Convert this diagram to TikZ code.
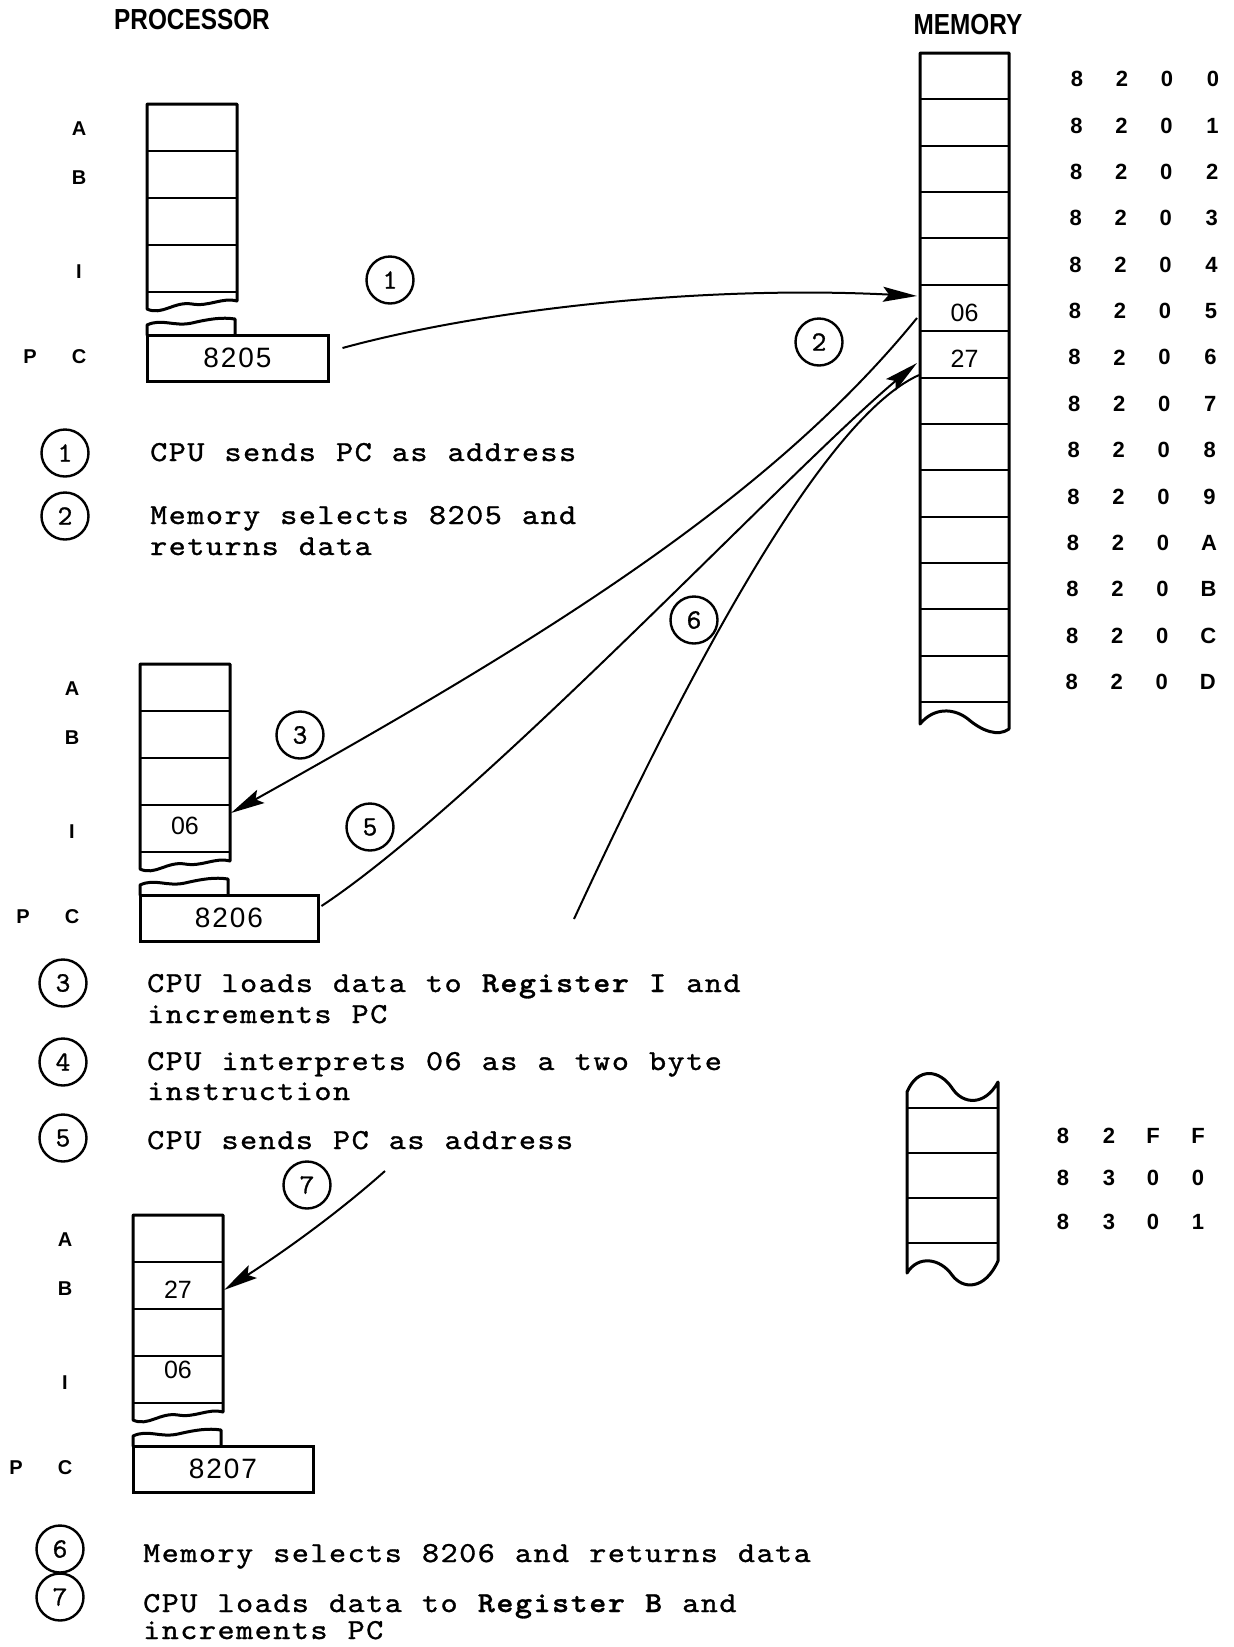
\documentclass[tikz,border=0pt]{standalone}
\usepackage{fontspec}
\usepackage{graphicx}
\newfontfamily\hel{Liberation Sans}
\newfontfamily\legfam{lmmono10-regular}[Extension=.otf, LetterSpace=4.73, FakeBold=1, BoldFont=lmmonolt10-bold]
\newfontfamily\circfam{lmmono10-regular}[Extension=.otf, FakeBold=1]
\usetikzlibrary{arrows.meta}
\newcommand{\legfont}{\legfam\fontsize{29}{30}\selectfont\spaceskip=17.97pt\relax}
\newcommand{\lt}[1]{\scalebox{1.12}[1]{#1}}
\newcommand{\cellfont}{\hel\fontsize{25}{25}\selectfont}
\newcommand{\pcfont}{\hel\fontsize{28}{28}\selectfont\addfontfeature{LetterSpace=7}}
\newcommand{\circfont}{\circfam\fontsize{28}{28}\selectfont}
\newcommand{\labfont}{\hel\bfseries\fontsize{20}{20}\selectfont}
\newcommand{\addrfont}{\hel\bfseries\fontsize{22}{22}\selectfont}
\newcommand{\titlefont}{\hel\bfseries\fontsize{29}{29}\selectfont}
% processor register stack: #1 prefix, #2 left x, #3 top y, #4 PC right x, #5 PC text
\newcommand{\procbox}[5]{%
  \foreach \k/\nm in {0/a,1/b,2/x,3/i}{\node[regcell] (#1\nm) at ({#2+45},{#3+47*\k+23.5}) {};}
  \pgfmathsetmacro{\R}{#3+188}
  \draw[boxline] ({#2+90},{\R+9}) -- ({#2+90},{#3}) -- ({#2},{#3}) -- ({#2},{\R+17})
     .. controls ({#2+15},{\R+24}) and ({#2+27},{\R+9}) .. ({#2+45},{\R+12})
     .. controls ({#2+62},{\R+15}) and ({#2+75},{\R+5}) .. ({#2+90},{\R+9});
  \draw[boxline] ({#2},{\R+43}) -- ({#2},{\R+33})
     .. controls ({#2+15},{\R+26}) and ({#2+27},{\R+35}) .. ({#2+45},{\R+31})
     .. controls ({#2+62},{\R+27}) and ({#2+75},{\R+25}) .. ({#2+88},{\R+27}) -- ({#2+88},{\R+43});
  \node[pcbox, minimum width={(#4-#2)*1pt}] (#1pc) at ({(#2+#4)/2},{\R+66}) {#5};
  \node[reglabel] (#1la) at ({#2-68},{#3+25}) {A};
  \node[reglabel] (#1lb) at ({#2-68},{#3+74}) {B};
  \node[reglabel] (#1li) at ({#2-68},{#3+168}) {I};
  \node[reglabel] (#1lp) at ({#2-117},{\R+65}) {P};
  \node[reglabel] (#1lc) at ({#2-68},{\R+65}) {C};
}
\begin{document}
\begin{tikzpicture}[x=1pt,y=-1pt,
  boxline/.style={line width=3pt, line join=round, line cap=round},
  regcell/.style={draw, line width=2pt, minimum width=90pt, minimum height=47pt, inner sep=0pt},
  memcell/.style={draw, line width=2pt, minimum width=89pt, minimum height=46.36pt, inner sep=0pt},
  celltext/.style={font=\cellfont, inner sep=0pt},
  pcbox/.style={draw, line width=3pt, minimum height=46pt, inner sep=0pt, font=\pcfont},
  conn/.style={line width=2pt},
  arr/.style={conn, -{Stealth[length=34pt,width=15pt,inset=6pt]}},
  stepnum/.style={draw, circle, line width=2.4pt, minimum size=47pt, inner sep=0pt, font=\circfont},
  reglabel/.style={font=\labfont, inner sep=0pt},
  addr/.style={font=\addrfont, inner sep=0pt},
  legtext/.style={font=\legfont, inner sep=0pt, anchor=base west},
  title/.style={font=\titlefont, inner sep=0pt}
]
\useasboundingbox (0,0) rectangle (1234,1647);

% titles
\node[title] (tp) at (192,20) {\scalebox{0.84}[1]{PROCESSOR}};
\node[title] (tm) at (968,25) {\scalebox{0.84}[1]{MEMORY}};

% processor snapshots
\procbox{p1}{147}{104}{328}{8205}
\procbox{p2}{140}{664}{318}{8206}
\procbox{p3}{133}{1215}{313}{8207}
\node[celltext] (t2i) at ([yshift=3pt]p2i.center) {06};
\node[celltext] (t3b) at ([yshift=-4pt]p3b.center) {27};
\node[celltext] (t3i) at ([yshift=9.5pt]p3i.center) {06};

% memory
\foreach \i in {0,...,13} {\node[memcell] (m\i) at (964.5,{53+46.36*(\i+0.5)}) {};}
\draw[boxline] (1009,729) -- (1009,53) -- (920,53) -- (920,724)
   .. controls (934,707) and (954,708) .. (968,719)
   .. controls (982,731) and (998,737) .. (1009,729);
\node[celltext] (tm5) at ([yshift=-5pt]m5.center) {06};
\node[celltext] (tm6) at ([yshift=-4pt]m6.center) {27};
\foreach \d [count=\i from 0] in {0,1,2,3,4,5,6,7,8,9,A,B,C,D} {
  \pgfmathsetmacro{\yy}{53+46.36*(\i+0.5)+3}
  \pgfmathsetmacro{\xx}{1077-0.4*\i}
  \node[addr] (ad\i-1) at (\xx,\yy) {8};
  \node[addr] (ad\i-2) at ({\xx+45},\yy) {2};
  \node[addr] (ad\i-3) at ({\xx+90},\yy) {0};
  \node[addr] (ad\i-4) at ({\xx+136},\yy) {\d};
}

% memory fragment
\foreach \i in {0,1,2} {\node[memcell, minimum width=91pt, minimum height=45pt] (n\i) at (952.5,{1108+45*\i+22.5}) {};}
\draw[boxline] (907,1092) .. controls (918,1066) and (940,1070) .. (952,1088)
   .. controls (963,1105) and (985,1106) .. (998,1082) -- (998,1261)
   .. controls (985,1290) and (963,1290) .. (952,1275)
   .. controls (940,1258) and (918,1255) .. (907,1273) -- cycle;
\foreach \a/\b/\c/\d/\y [count=\j] in {8/2/F/F/1136, 8/3/0/0/1178, 8/3/0/1/1222} {
  \node[addr] (bd\j-1) at (1063,\y) {\a};
  \node[addr] (bd\j-2) at (1109,\y) {\b};
  \node[addr] (bd\j-3) at (1153,\y) {\c};
  \node[addr] (bd\j-4) at (1198,\y) {\d};
}

% step circles on the diagram
\node[stepnum] (c1) at (390,280) {1};
\node[stepnum] (c2) at (819,342) {2};
\node[stepnum] (c3) at (300,735) {3};
\node[stepnum] (c5) at (370,827) {5};
\node[stepnum] (c6) at (694,620) {6};
\node[stepnum] (c7) at (307,1185) {7};

% connectors
\draw[arr] ([xshift=13pt,yshift=10pt]p1pc.east) .. controls +(139,-38) and +(-218,-11) .. ([xshift=-2pt,yshift=12pt]m5.west);
\draw[arr] ([xshift=-2pt,yshift=-10pt]m5.west) .. controls +(-148,182) and +(310,-173) .. ([yshift=15.5pt]p2i.east);
\draw[arr] ([xshift=2pt,yshift=12pt]p2pc.east) .. controls +(160,-106) and +(-128,107) .. ([xshift=-2pt,yshift=-8.7pt]m6.west);
\coordinate (e6) at (574,919);
\draw[conn] ([yshift=-20.7pt]m6.west) .. controls +(-100,45) and +(106,-229) .. (e6);
\coordinate (s7) at (385,1171);
\draw[arr] (s7) .. controls +(-55,49) and +(47,-30) .. ([yshift=-4.5pt]p3b.east);

% legend
\node[stepnum] (k1) at (65,453) {1};
\node[stepnum] (k2) at (65,516) {2};
\node[stepnum] (k3) at (63,983) {3};
\node[stepnum] (k4) at (63,1062) {4};
\node[stepnum] (k5) at (63,1138) {5};
\node[stepnum] (k6) at (60,1549) {6};
\node[stepnum] (k7) at (60,1597) {7};
\node[legtext] (l1) at (150,461) {\lt{CPU sends PC as address}};
\node[legtext] (l2a) at (150,524) {\lt{Memory selects 8205 and}};
\node[legtext] (l2b) at (150,555) {\lt{returns data}};
\node[legtext] (l3a) at (147,992) {\lt{CPU loads data to {\bfseries Register I} and}};
\node[legtext] (l3b) at (147,1023) {\lt{increments PC}};
\node[legtext] (l4a) at (147,1070) {\lt{CPU interprets 06 as a two byte}};
\node[legtext] (l4b) at (147,1100) {\lt{instruction}};
\node[legtext] (l5) at (147,1149) {\lt{CPU sends PC as address}};
\node[legtext] (l6) at (143,1562) {\lt{Memory selects 8206 and returns data}};
\node[legtext] (l7a) at (143,1612) {\lt{CPU loads data to {\bfseries Register B} and}};
\node[legtext] (l7b) at (143,1639) {\lt{increments PC}};
\end{tikzpicture}
\end{document}
